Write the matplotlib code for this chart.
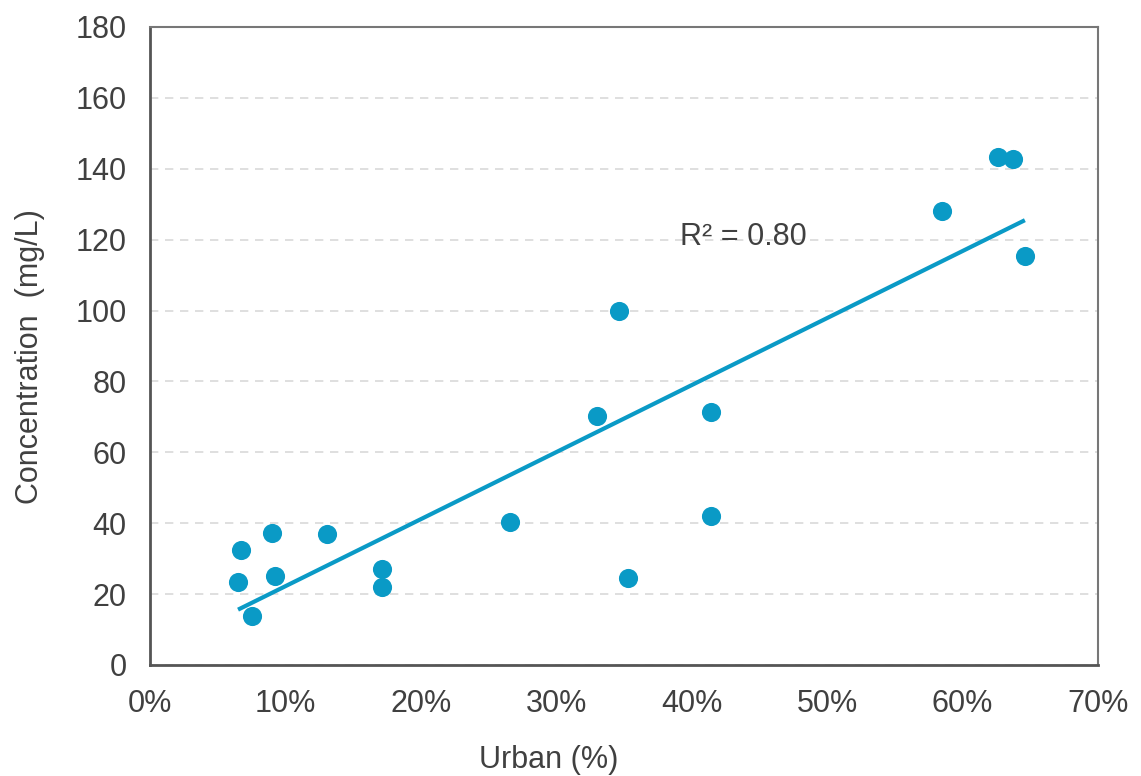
import numpy as np
import matplotlib.pyplot as plt
import matplotlib.ticker as ticker

plt.rcParams['font.family'] = ['Liberation Sans', 'DejaVu Sans']

# urban fraction (0-1) and concentration (mg/L)
urban = [0.067, 0.065, 0.075, 0.090, 0.092, 0.131, 0.171, 0.171, 0.266,
         0.330, 0.346, 0.353, 0.414, 0.414, 0.585, 0.626, 0.637, 0.646]
conc = [32.4, 23.4, 13.8, 37.2, 25.1, 37.0, 27.1, 22.0, 40.3,
        70.3, 99.9, 24.5, 71.4, 42.0, 128.1, 143.3, 142.8, 115.4]
r2_label = "R² = 0.80"

blue = "#0a9ac6"
grey = "#404040"
W, H = 1141, 776

fig = plt.figure(figsize=(W / 100, H / 100), dpi=100)
ax = fig.add_axes([150 / W, 1 - 665 / H, 948 / W, 638 / H])

ax.scatter(urban, conc, s=190, color=blue, zorder=3, linewidths=0)

# linear trend line over data range
x = np.array(urban)
k, b = np.polyfit(x, conc, 1)
xs = np.array([x.min(), x.max()])
ax.plot(xs, k * xs + b, color=blue, lw=3, zorder=2, solid_capstyle='butt')

ax.text(0.391, 118.5, r2_label, fontsize=22, color=grey)

ax.set_xlim(0, 0.7)
ax.set_ylim(0, 180)
ax.set_xticks(np.arange(0, 0.71, 0.1))
ax.set_yticks(np.arange(0, 181, 20))
ax.xaxis.set_major_formatter(ticker.PercentFormatter(1.0, decimals=0))
ax.yaxis.grid(True, color="#d9d9d9", ls=(0, (5, 4)), lw=1.2)
ax.set_axisbelow(True)

for s in ax.spines.values():
    s.set_color("#777777")
    s.set_linewidth(1.5)
ax.spines['left'].set_color("#555555")
ax.spines['bottom'].set_color("#555555")
ax.spines['left'].set_linewidth(2)
ax.spines['bottom'].set_linewidth(2)

ax.tick_params(axis='y', length=0, labelsize=22, labelcolor=grey, pad=17)
ax.tick_params(axis='x', length=0, labelsize=22, labelcolor=grey, pad=17)

fig.text(549 / W, 1 - 760 / H, "Urban (%)", fontsize=22, color=grey,
         ha='center', va='center')
fig.text(30 / W, 1 - 357 / H, "Concentration  (mg/L)", fontsize=22,
         color=grey, ha='center', va='center', rotation=90)

fig.savefig("out.png", dpi=100)
